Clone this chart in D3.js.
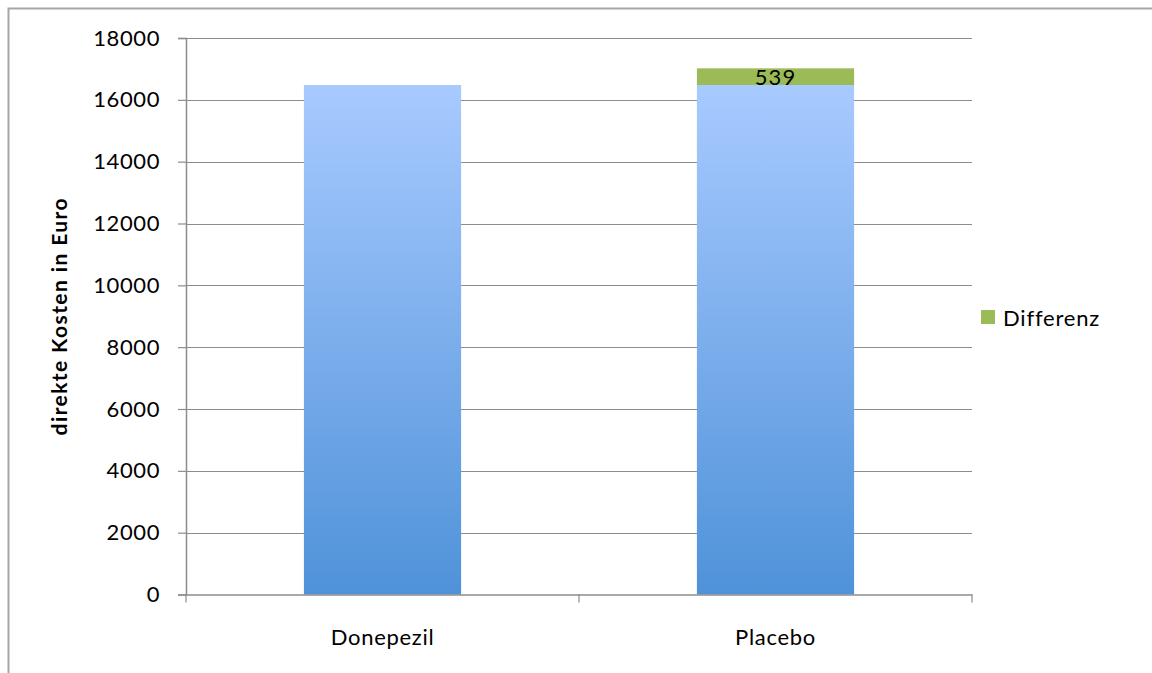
<!DOCTYPE html>
<html><head><meta charset="utf-8">
<script src="https://cdn.jsdelivr.net/npm/d3@7"></script>
<style>
html,body{margin:0;padding:0;background:#fff;}
svg{display:block;font-family:Lato,"Open Sans",sans-serif;}
</style></head>
<body>
<svg id="chart" width="1152" height="673"></svg>
<script>
const categories = ["Donepezil", "Placebo"];
const baseValues = [16480, 16480];
const diffValues = [0, 539];
const diffLabels = ["", "539"];
const yTicks = [0, 2000, 4000, 6000, 8000, 10000, 12000, 14000, 16000, 18000];
const legendLabel = "Differenz";
const yTitle = "direkte Kosten in Euro";

(function () {
const svg = d3.select("#chart");
const plotLeft = 186, plotRight = 972, plotTop = 38, plotBottom = 594.5;
const FONT = "Lato, 'Open Sans', sans-serif";

// frame
svg.append("path").attr("d", "M8.5,673 L8.5,8.5 L1152,8.5")
  .attr("fill", "none").attr("stroke", "#a6a6a6").attr("stroke-width", 2);

const y = d3.scaleLinear().domain([0, 18000]).range([plotBottom, plotTop]);
const x = d3.scaleBand().domain(categories).range([plotLeft, plotRight]).padding(0);

const defs = svg.append("defs");
const grad = defs.append("linearGradient").attr("id", "blueGrad")
  .attr("x1", 0).attr("y1", 0).attr("x2", 0).attr("y2", 1);
grad.append("stop").attr("offset", "0%").attr("stop-color", "#a8caff");
grad.append("stop").attr("offset", "100%").attr("stop-color", "#4f92d9");

// gridlines
svg.append("g").selectAll("line").data(yTicks.filter(d => d > 0)).join("line")
  .attr("x1", plotLeft).attr("x2", plotRight)
  .attr("y1", d => Math.round(y(d)) + 0.5).attr("y2", d => Math.round(y(d)) + 0.5)
  .attr("stroke", "#8c8c8c").attr("stroke-width", 1.2);

// y axis
const yAxis = d3.axisLeft(y).tickValues(yTicks).tickSize(8).tickPadding(18).tickFormat(d3.format("d"));
const gy = svg.append("g").attr("transform", `translate(${plotLeft},0)`).call(yAxis);
gy.select(".domain").attr("stroke", "#8c8c8c").attr("stroke-width", 1.5);
gy.selectAll(".tick line").attr("stroke", "#8c8c8c").attr("stroke-width", 1.2);
gy.selectAll(".tick text").attr("font-size", 22).attr("fill", "#000")
  .attr("letter-spacing", "0.6px").attr("font-family", FONT);

// bars
const barW = x.bandwidth() * 0.4;
const bars = svg.append("g");
bars.selectAll("rect.base").data(categories).join("rect").attr("class", "base")
  .attr("x", d => x(d) + x.bandwidth() / 2 - barW / 2)
  .attr("width", barW)
  .attr("y", (d, i) => y(baseValues[i]))
  .attr("height", (d, i) => y(0) - y(baseValues[i]))
  .attr("fill", "url(#blueGrad)");
bars.selectAll("rect.diff").data(categories).join("rect").attr("class", "diff")
  .attr("x", d => x(d) + x.bandwidth() / 2 - barW / 2)
  .attr("width", barW)
  .attr("y", (d, i) => y(baseValues[i] + diffValues[i]))
  .attr("height", (d, i) => y(baseValues[i]) - y(baseValues[i] + diffValues[i]))
  .attr("fill", "#9bbb59");
bars.selectAll("text").data(categories).join("text")
  .attr("x", d => x(d) + x.bandwidth() / 2)
  .attr("y", (d, i) => y(baseValues[i] + diffValues[i] / 2) + 8)
  .attr("text-anchor", "middle").attr("font-size", 22).attr("letter-spacing", "1px").attr("fill", "#000")
  .text((d, i) => diffLabels[i]);

// x axis
const xAxis = d3.axisBottom(x).tickSize(0).tickPadding(35);
const gx = svg.append("g").attr("transform", `translate(0,${plotBottom})`).call(xAxis);
gx.select(".domain").attr("stroke", "#8c8c8c").attr("stroke-width", 1.5);
gx.selectAll(".tick text").attr("font-size", 22).attr("fill", "#000")
  .attr("letter-spacing", "0.7px").attr("font-family", FONT);
// category separator ticks
const sepVals = [plotLeft, x(categories[1]), plotRight];
svg.append("g").selectAll("line").data(sepVals).join("line")
  .attr("x1", d => d).attr("x2", d => d).attr("y1", plotBottom).attr("y2", plotBottom + 8)
  .attr("stroke", "#8c8c8c").attr("stroke-width", 1.2);

// y title
svg.append("text").attr("transform", `translate(67,${(plotTop + plotBottom) / 2}) rotate(-90)`)
  .attr("text-anchor", "middle").attr("font-size", 21).attr("font-weight", "bold")
  .attr("letter-spacing", "1.4px").attr("fill", "#000").text(yTitle);

// legend
const lg = svg.append("g").attr("transform", "translate(981,310)");
lg.append("rect").attr("width", 14).attr("height", 14).attr("fill", "#9bbb59");
lg.append("text").attr("x", 22).attr("y", 16).attr("font-size", 22).attr("letter-spacing", "0.8px")
  .attr("fill", "#000").text(legendLabel);
})();
</script>
</body></html>
